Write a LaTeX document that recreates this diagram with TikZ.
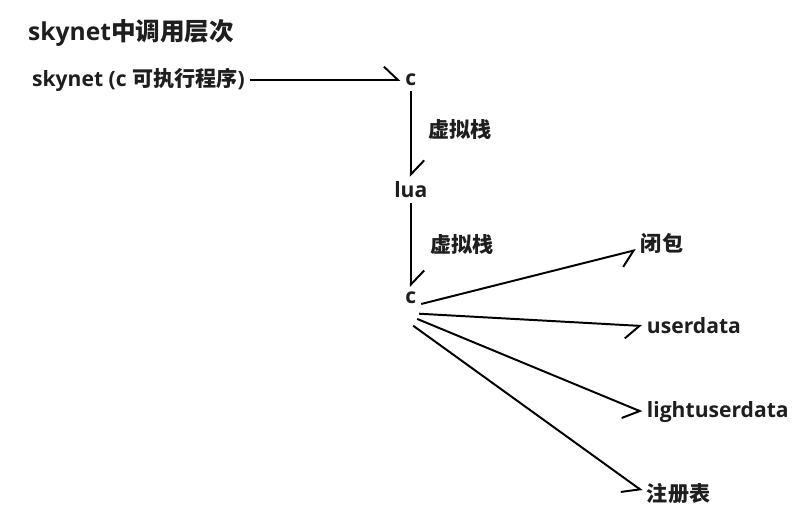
\documentclass[tikz,border=0pt]{standalone}
\usepackage{fontspec}
\setmainfont{Open Sans}
\newfontfamily\cjk{Noto Sans CJK SC}
\usetikzlibrary{arrows.meta, positioning}
\definecolor{ink}{RGB}{30, 30, 30}

\begin{document}
\begin{tikzpicture}[
    lbl/.style={font=\fontsize{15}{17}\selectfont\bfseries, text=ink},
    harpL/.style={line width=1.4pt, -{Straight Barb[left, length=10pt, width=19pt]}},
    harpR/.style={line width=1.4pt, -{Straight Barb[right, length=10pt, width=19pt]}}
]
    \useasboundingbox (0,0) rectangle (20.05,13.225);

    \node[lbl, anchor=west, font=\fontsize{17.5}{19}\selectfont\bfseries] (title) at (0.58,12.4) {skynet{\cjk 中调用层次}};

    \node[lbl, anchor=west] (skynet) at (0.68,11.225) {skynet (c {\cjk 可执行程序})};
    \node[lbl] (c1) at (10.27,11.225) {c};
    \node[lbl] (lua) at (10.27,8.475) {lua};
    \node[lbl] (c2) at (10.27,5.775) {c};

    \node[lbl] (vs1) at (11.5,9.975) {\cjk 虚拟栈};
    \node[lbl] (vs2) at (11.55,7.1) {\cjk 虚拟栈};

    \node[lbl] (bibao) at (16.55,7.15) {\cjk 闭包};
    \node[lbl, anchor=west] (userdata) at (16.05,5.075) {userdata};
    \node[lbl, anchor=west] (lightuser) at (16.05,2.925) {lightuserdata};
    \node[lbl, anchor=west] (regtable) at (16.05,0.875) {\cjk 注册表};

    \draw[harpL] (skynet) -- (c1);
    \draw[harpL] (c1) -- (lua);
    \draw[harpL] (lua) -- (c2);

    % fan out from the lower c
    \draw[harpR] ([yshift=-0.15cm]c2.east) -- (bibao.195);
    \draw[harpR] ([shift={(-0.05,-0.12)}]c2.south east) -- (userdata.west);
    \draw[harpR] ([shift={(-0.1,-0.25)}]c2.south east) -- (lightuser.west);
    \draw[harpR] ([shift={(-0.2,-0.42)}]c2.south east) -- (regtable.175);

\end{tikzpicture}
\end{document}
